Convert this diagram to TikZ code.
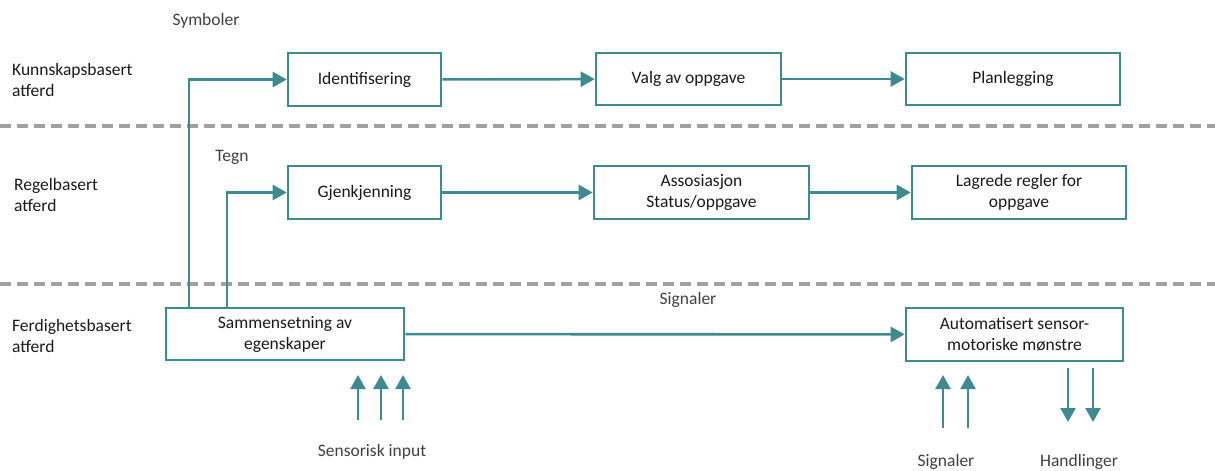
\documentclass[tikz,border=0pt]{standalone}
\usepackage{fontspec}
\setmainfont{Carlito}
\usetikzlibrary{arrows.meta,positioning}
\definecolor{teal1}{HTML}{3F8A8F}
\definecolor{dash1}{HTML}{A0A0A0}
\definecolor{txt1}{HTML}{1A1A1A}
\definecolor{lab1}{HTML}{404040}
\tikzset{
  box/.style={draw=teal1,line width=2.6pt,fill=white,align=center,text=txt1,inner sep=0pt,font=\fontsize{17.5}{21}\selectfont},
  conn/.style={draw=teal1,line width=2.6pt,-{Triangle[length=14pt,width=15pt]}},
  sep/.style={draw=dash1,line width=3.2pt,dash pattern=on 11pt off 6pt},
  lab/.style={text=lab1,font=\fontsize{17.5}{21}\selectfont,inner sep=0pt},
  side/.style={text=txt1,font=\fontsize{17.5}{21}\selectfont,align=left,anchor=west,inner sep=0pt}
}
\begin{document}
\begin{tikzpicture}[x=1pt,y=-1pt]
\useasboundingbox (0,0) rectangle (1215,471);
% separators
\coordinate (s1a) at (0,126); \coordinate (s1b) at (1215,126);
\coordinate (s2a) at (0,284); \coordinate (s2b) at (1215,284);
\draw[sep] (s1a) -- (s1b);
\draw[sep] (s2a) -- (s2b);
% boxes
\node[box,minimum width=153pt,minimum height=53pt] (ident) at (364.5,79.5) {Identifisering};
\node[box,minimum width=185pt,minimum height=52pt] (valg) at (688.5,79) {Valg av oppgave};
\node[box,minimum width=214pt,minimum height=52pt] (plan) at (1013,79) {Planlegging};
\node[box,minimum width=153pt,minimum height=53pt] (gjen) at (364.5,192.5) {Gjenkjenning};
\node[box,minimum width=215pt,minimum height=53pt] (asso) at (701.5,192.5) {Assosiasjon\\Status/oppgave};
\node[box,minimum width=214pt,minimum height=53pt] (lagr) at (1019,192.5) {Lagrede regler for\\oppgave};
\node[box,minimum width=238pt,minimum height=52pt] (samm) at (285,334) {Sammensetning av\\egenskaper};
\node[box,minimum width=217pt,minimum height=53pt] (auto) at (1014.5,334.5) {Automatisert sensor-\\motoriske mønstre};
% side labels
\node[side] (kb) at (12,80) {Kunnskapsbasert\\atferd};
\node[side] (rb) at (14,195) {Regelbasert\\atferd};
\node[side] (fb) at (12,336) {Ferdighetsbasert\\atferd};
% small labels
\node[lab] (sym) at (206,21) {Symboler};
\node[lab] (tegn) at (232,157) {Tegn};
\node[lab] (sig1) at (688,300) {Signaler};
\node[lab] (sens) at (372,452) {Sensorisk input};
\node[lab] (sig2) at (946,462) {Signaler};
\node[lab] (hand) at (1079,462) {Handlinger};
% connectors
\draw[conn] ([xshift=-96pt]samm.north) |- (ident.west);
\draw[conn] ([xshift=-58pt]samm.north) |- (gjen.west);
\draw[conn] (ident) -- (valg);
\draw[conn] (valg) -- (plan);
\draw[conn] (gjen) -- (asso);
\draw[conn] (asso) -- (lagr);
\draw[conn] (samm) -- (auto);
% input arrows
\coordinate (i1) at (358,420); \coordinate (i1t) at (358,375);
\coordinate (i2) at (381,420); \coordinate (i2t) at (381,375);
\coordinate (i3) at (403,420); \coordinate (i3t) at (403,375);
\draw[conn] (i1) -- (i1t);
\draw[conn] (i2) -- (i2t);
\draw[conn] (i3) -- (i3t);
\coordinate (g1) at (943,428); \coordinate (g1t) at (943,375);
\coordinate (g2) at (968,428); \coordinate (g2t) at (968,375);
\draw[conn] (g1) -- (g1t);
\draw[conn] (g2) -- (g2t);
\coordinate (h1) at (1068,368); \coordinate (h1t) at (1068,422);
\coordinate (h2) at (1093,368); \coordinate (h2t) at (1093,422);
\draw[conn] (h1) -- (h1t);
\draw[conn] (h2) -- (h2t);
\end{tikzpicture}
\end{document}
